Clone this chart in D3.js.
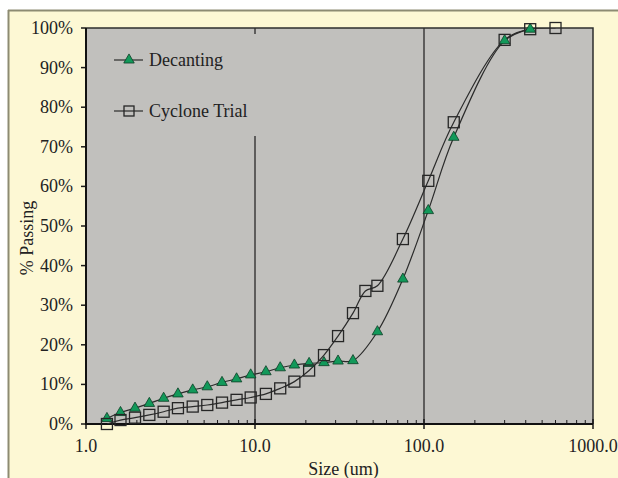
<!DOCTYPE html>
<html>
<head>
<meta charset="utf-8">
<script src="https://cdn.jsdelivr.net/npm/d3@7"></script>
<style>
  html, body { margin: 0; padding: 0; background: #ffffff; }
  svg { display: block; }
</style>
</head>
<body>
<script>
// Particle size data (size in um, % passing)
const decantingSizes = [1.33, 1.6, 1.95, 2.37, 2.88, 3.5, 4.28, 5.22, 6.38, 7.78, 9.43, 11.6, 14.1, 17.1, 20.9, 25.6, 31, 38, 53, 75, 106, 150, 300, 425];
const decantingPassing = [1.4, 2.9, 4.0, 5.2, 6.5, 7.6, 8.6, 9.4, 10.5, 11.4, 12.4, 13.2, 14.2, 14.9, 15.3, 15.5, 15.9, 16.0, 23.3, 36.6, 53.9, 72.4, 96.8, 99.7];

const cycloneSizes = [1.33, 1.6, 1.95, 2.37, 2.88, 3.5, 4.28, 5.22, 6.38, 7.78, 9.43, 11.6, 14.1, 17.1, 20.9, 25.6, 31, 38, 45, 53, 75, 106, 150, 300, 425, 600];
const cyclonePassing = [0, 1.0, 1.6, 2.3, 3.1, 4.0, 4.4, 4.8, 5.4, 6.1, 6.7, 7.6, 9.0, 10.7, 13.5, 17.4, 22.2, 28.0, 33.6, 34.9, 46.7, 61.4, 76.2, 97.0, 99.7, 100];

const xTicks = [1, 10, 100, 1000];
const yTicks = [0, 10, 20, 30, 40, 50, 60, 70, 80, 90, 100];
const seriesNames = ["Decanting", "Cyclone Trial"];

const width = 618;
const height = 478;
const plot = { left: 86, right: 593, top: 28, bottom: 424 };

const svg = d3.select("body")
  .append("svg")
  .attr("width", width)
  .attr("height", height);

// chart area background
svg.append("rect")
  .attr("x", 0).attr("y", 0)
  .attr("width", width).attr("height", height)
  .attr("fill", "#ffffff");

svg.append("rect")
  .attr("x", 8).attr("y", 10)
  .attr("width", width - 8).attr("height", height - 10)
  .attr("fill", "#fdf8d4");

svg.append("line")
  .attr("x1", 8).attr("x2", width).attr("y1", 10.5).attr("y2", 10.5)
  .attr("stroke", "#8d8b72").attr("stroke-width", 2);
svg.append("line")
  .attr("x1", 8.5).attr("x2", 8.5).attr("y1", 10).attr("y2", height)
  .attr("stroke", "#8d8b72").attr("stroke-width", 2);

const x = d3.scaleLog()
  .domain([1, 1000])
  .range([plot.left, plot.right]);

const y = d3.scaleLinear()
  .domain([0, 100])
  .range([plot.bottom, plot.top]);

// plot area
svg.append("rect")
  .attr("x", plot.left).attr("y", plot.top)
  .attr("width", plot.right - plot.left).attr("height", plot.bottom - plot.top)
  .attr("fill", "#c1c0bd");

// vertical gridlines at 10 and 100
svg.append("g")
  .selectAll("line")
  .data([10, 100])
  .join("line")
  .attr("x1", d => x(d)).attr("x2", d => x(d))
  .attr("y1", plot.top).attr("y2", plot.bottom)
  .attr("stroke", "#3c3c3c")
  .attr("stroke-width", 1.5);

// plot border (top and right)
svg.append("path")
  .attr("d", `M${plot.left},${plot.top}H${plot.right}V${plot.bottom}`)
  .attr("fill", "none")
  .attr("stroke", "#2e2e2e")
  .attr("stroke-width", 1.5);

// legend box hides the gridline behind it
const legend = svg.append("g");
legend.append("rect")
  .attr("x", 100).attr("y", 34)
  .attr("width", 165).attr("height", 102)
  .attr("fill", "#c1c0bd");

// x axis: major ticks cross down, minor ticks point up
const minor = [];
for (let dec = 1; dec < 1000; dec *= 10) {
  for (let k = 2; k <= 9; k++) minor.push(dec * k);
}

const xAxis = svg.append("g");
xAxis.selectAll("line.minor")
  .data(minor)
  .join("line")
  .attr("class", "minor")
  .attr("x1", d => x(d)).attr("x2", d => x(d))
  .attr("y1", plot.bottom - 4).attr("y2", plot.bottom)
  .attr("stroke", "#1a1a1a").attr("stroke-width", 1);
xAxis.selectAll("line.major")
  .data(xTicks)
  .join("line")
  .attr("class", "major")
  .attr("x1", d => x(d)).attr("x2", d => x(d))
  .attr("y1", plot.bottom - 5).attr("y2", plot.bottom + 5)
  .attr("stroke", "#1a1a1a").attr("stroke-width", 1.5);
xAxis.append("line")
  .attr("x1", plot.left).attr("x2", plot.right)
  .attr("y1", plot.bottom).attr("y2", plot.bottom)
  .attr("stroke", "#111").attr("stroke-width", 1.8);
xAxis.selectAll("text")
  .data(xTicks)
  .join("text")
  .attr("x", d => x(d))
  .attr("y", plot.bottom + 28)
  .attr("text-anchor", "middle")
  .attr("font-family", "Liberation Serif, Times New Roman, serif")
  .attr("font-size", 18)
  .attr("fill", "#222")
  .text(d => d.toFixed(1));

// y axis
const yAxis = svg.append("g");
yAxis.selectAll("line")
  .data(yTicks)
  .join("line")
  .attr("x1", plot.left - 5).attr("x2", plot.left)
  .attr("y1", d => y(d)).attr("y2", d => y(d))
  .attr("stroke", "#1a1a1a").attr("stroke-width", 1.5);
yAxis.append("line")
  .attr("x1", plot.left).attr("x2", plot.left)
  .attr("y1", plot.top).attr("y2", plot.bottom + 1)
  .attr("stroke", "#111").attr("stroke-width", 2);
yAxis.selectAll("text")
  .data(yTicks)
  .join("text")
  .attr("x", plot.left - 13)
  .attr("y", d => y(d) + 6)
  .attr("text-anchor", "end")
  .attr("font-family", "Liberation Serif, Times New Roman, serif")
  .attr("font-size", 18)
  .attr("fill", "#222")
  .text(d => d + "%");

// axis titles
svg.append("text")
  .attr("x", (plot.left + plot.right) / 2 + 4)
  .attr("y", 475)
  .attr("text-anchor", "middle")
  .attr("font-family", "Liberation Serif, Times New Roman, serif")
  .attr("font-size", 18)
  .attr("fill", "#222")
  .text("Size (um)");

svg.append("text")
  .attr("transform", "translate(33,238)rotate(-90)")
  .attr("text-anchor", "middle")
  .attr("font-family", "Liberation Serif, Times New Roman, serif")
  .attr("font-size", 18)
  .attr("fill", "#222")
  .text("% Passing");

// series
const decanting = decantingSizes.map((s, i) => ({ size: s, pct: decantingPassing[i] }));
const cyclone = cycloneSizes.map((s, i) => ({ size: s, pct: cyclonePassing[i] }));

svg.append("clipPath")
  .attr("id", "plot-clip")
  .append("rect")
  .attr("x", plot.left).attr("y", plot.top)
  .attr("width", plot.right - plot.left).attr("height", plot.bottom - plot.top);

const line = d3.line()
  .x(d => x(d.size))
  .y(d => y(d.pct))
  .curve(d3.curveCatmullRom.alpha(0.5));

const lines = svg.append("g").attr("clip-path", "url(#plot-clip)");
[decanting, cyclone].forEach(series => {
  lines.append("path")
    .datum(series)
    .attr("d", line)
    .attr("fill", "none")
    .attr("stroke", "#2b2b2b")
    .attr("stroke-width", 1.2);
});

const triangle = d3.symbol().type(d3.symbolTriangle).size(48);
const green = "#12995a";

svg.append("g")
  .selectAll("path")
  .data(decanting)
  .join("path")
  .attr("transform", d => `translate(${x(d.size)},${y(d.pct)})`)
  .attr("d", triangle)
  .attr("fill", green)
  .attr("stroke", "#0c3f26")
  .attr("stroke-width", 0.8);

svg.append("g")
  .selectAll("rect")
  .data(cyclone)
  .join("rect")
  .attr("x", d => x(d.size) - 5.5)
  .attr("y", d => y(d.pct) - 5.5)
  .attr("width", 11).attr("height", 11)
  .attr("fill", "none")
  .attr("stroke", "#262626")
  .attr("stroke-width", 1.3);

// legend entries
const legendRows = [
  { name: seriesNames[0], y: 60 },
  { name: seriesNames[1], y: 111 }
];
legendRows.forEach((row, i) => {
  legend.append("line")
    .attr("x1", 114).attr("x2", 143)
    .attr("y1", row.y).attr("y2", row.y)
    .attr("stroke", "#2b2b2b").attr("stroke-width", 1.2);
  if (i === 0) {
    legend.append("path")
      .attr("transform", `translate(129,${row.y})`)
      .attr("d", triangle)
      .attr("fill", green)
      .attr("stroke", "#0c3f26")
      .attr("stroke-width", 0.8);
  } else {
    legend.append("rect")
      .attr("x", 124).attr("y", row.y - 5)
      .attr("width", 10).attr("height", 10)
      .attr("fill", "none")
      .attr("stroke", "#262626").attr("stroke-width", 1.3);
  }
  legend.append("text")
    .attr("x", 149)
    .attr("y", row.y + 6)
    .attr("font-family", "Liberation Serif, Times New Roman, serif")
    .attr("font-size", 18)
    .attr("fill", "#222")
    .text(row.name);
});
</script>
</body>
</html>
